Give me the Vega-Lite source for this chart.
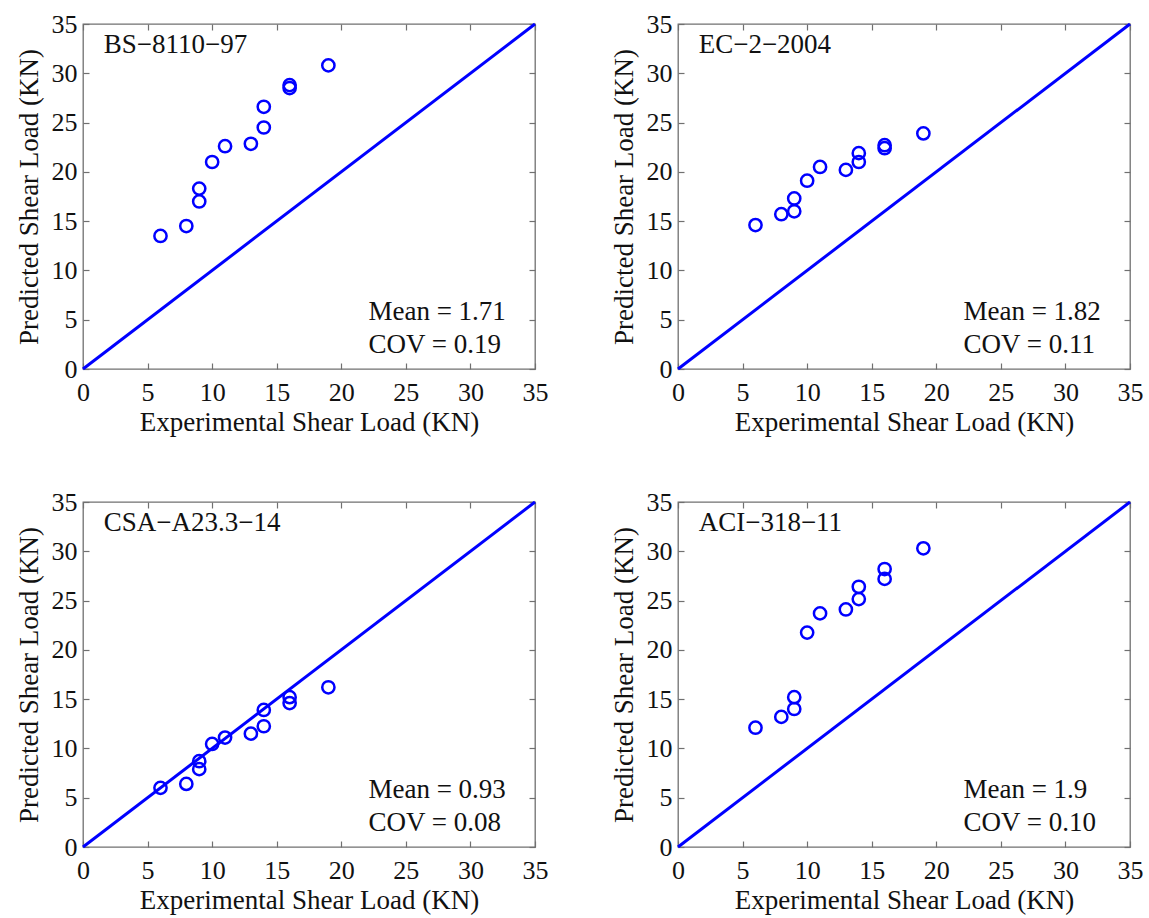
{
  "$schema": "https://vega.github.io/schema/vega-lite/v6.json",
  "padding": {"left": 14, "top": 10, "right": 5, "bottom": 2},
  "background": "white",
  "data": {"values": [
    {"kind": "pt", "code": "BS−8110−97", "exp": 6, "pred": 13.5},
    {"kind": "pt", "code": "BS−8110−97", "exp": 8, "pred": 14.5},
    {"kind": "pt", "code": "BS−8110−97", "exp": 9, "pred": 18.3},
    {"kind": "pt", "code": "BS−8110−97", "exp": 9, "pred": 17.0},
    {"kind": "pt", "code": "BS−8110−97", "exp": 10, "pred": 21.0},
    {"kind": "pt", "code": "BS−8110−97", "exp": 11, "pred": 22.6},
    {"kind": "pt", "code": "BS−8110−97", "exp": 13, "pred": 22.85},
    {"kind": "pt", "code": "BS−8110−97", "exp": 14, "pred": 24.5},
    {"kind": "pt", "code": "BS−8110−97", "exp": 14, "pred": 26.6},
    {"kind": "pt", "code": "BS−8110−97", "exp": 16, "pred": 28.8},
    {"kind": "pt", "code": "BS−8110−97", "exp": 16, "pred": 28.5},
    {"kind": "pt", "code": "BS−8110−97", "exp": 19, "pred": 30.8},
    {"kind": "pt", "code": "EC−2−2004", "exp": 6, "pred": 14.6},
    {"kind": "pt", "code": "EC−2−2004", "exp": 8, "pred": 15.7},
    {"kind": "pt", "code": "EC−2−2004", "exp": 9, "pred": 16.0},
    {"kind": "pt", "code": "EC−2−2004", "exp": 9, "pred": 17.3},
    {"kind": "pt", "code": "EC−2−2004", "exp": 10, "pred": 19.1},
    {"kind": "pt", "code": "EC−2−2004", "exp": 11, "pred": 20.5},
    {"kind": "pt", "code": "EC−2−2004", "exp": 13, "pred": 20.2},
    {"kind": "pt", "code": "EC−2−2004", "exp": 14, "pred": 21.0},
    {"kind": "pt", "code": "EC−2−2004", "exp": 14, "pred": 21.9},
    {"kind": "pt", "code": "EC−2−2004", "exp": 16, "pred": 22.4},
    {"kind": "pt", "code": "EC−2−2004", "exp": 16, "pred": 22.7},
    {"kind": "pt", "code": "EC−2−2004", "exp": 19, "pred": 23.9},
    {"kind": "pt", "code": "CSA−A23.3−14", "exp": 6, "pred": 6.0},
    {"kind": "pt", "code": "CSA−A23.3−14", "exp": 8, "pred": 6.4},
    {"kind": "pt", "code": "CSA−A23.3−14", "exp": 9, "pred": 7.9},
    {"kind": "pt", "code": "CSA−A23.3−14", "exp": 9, "pred": 8.7},
    {"kind": "pt", "code": "CSA−A23.3−14", "exp": 10, "pred": 10.45},
    {"kind": "pt", "code": "CSA−A23.3−14", "exp": 11, "pred": 11.1},
    {"kind": "pt", "code": "CSA−A23.3−14", "exp": 13, "pred": 11.5},
    {"kind": "pt", "code": "CSA−A23.3−14", "exp": 14, "pred": 12.25},
    {"kind": "pt", "code": "CSA−A23.3−14", "exp": 14, "pred": 13.9},
    {"kind": "pt", "code": "CSA−A23.3−14", "exp": 16, "pred": 14.6},
    {"kind": "pt", "code": "CSA−A23.3−14", "exp": 16, "pred": 15.2},
    {"kind": "pt", "code": "CSA−A23.3−14", "exp": 19, "pred": 16.2},
    {"kind": "pt", "code": "ACI−318−11", "exp": 6, "pred": 12.1},
    {"kind": "pt", "code": "ACI−318−11", "exp": 8, "pred": 13.2},
    {"kind": "pt", "code": "ACI−318−11", "exp": 9, "pred": 14.0},
    {"kind": "pt", "code": "ACI−318−11", "exp": 9, "pred": 15.2},
    {"kind": "pt", "code": "ACI−318−11", "exp": 10, "pred": 21.75},
    {"kind": "pt", "code": "ACI−318−11", "exp": 11, "pred": 23.7},
    {"kind": "pt", "code": "ACI−318−11", "exp": 13, "pred": 24.1},
    {"kind": "pt", "code": "ACI−318−11", "exp": 14, "pred": 25.15},
    {"kind": "pt", "code": "ACI−318−11", "exp": 14, "pred": 26.4},
    {"kind": "pt", "code": "ACI−318−11", "exp": 16, "pred": 27.2},
    {"kind": "pt", "code": "ACI−318−11", "exp": 16, "pred": 28.2},
    {"kind": "pt", "code": "ACI−318−11", "exp": 19, "pred": 30.3},
    {"kind": "label", "code": "BS−8110−97", "mean": "Mean = 1.71", "cov": "COV = 0.19"},
    {"kind": "label", "code": "EC−2−2004", "mean": "Mean = 1.82", "cov": "COV = 0.11"},
    {"kind": "label", "code": "CSA−A23.3−14", "mean": "Mean = 0.93", "cov": "COV = 0.08"},
    {"kind": "label", "code": "ACI−318−11", "mean": "Mean = 1.9", "cov": "COV = 0.10"}
  ]},
  "spacing": 52,
  "vconcat": [
    {
      "spacing": 143,
      "bounds": "flush",
      "hconcat": [
        {
          "width": 452, "height": 345,
          "transform": [{"filter": "datum.code === 'BS−8110−97'"}],
          "layer": [
            {"transform": [{"filter": "datum.kind === 'label'"}], "mark": {"type": "rule", "color": "#0000FF", "strokeWidth": 3},
              "encoding": {
                "x": {"datum": 0, "type": "quantitative", "scale": {"domain": [0, 35], "nice": false}, "axis": {"orient": "top", "values": [0, 5, 10, 15, 20, 25, 30, 35], "labels": false, "title": null}},
                "y": {"datum": 0, "type": "quantitative", "scale": {"domain": [0, 35], "nice": false}, "axis": {"orient": "right", "values": [0, 5, 10, 15, 20, 25, 30, 35], "labels": false, "title": null}},
                "x2": {"datum": 35}, "y2": {"datum": 35}}},
            {"transform": [{"filter": "datum.kind === 'pt'"}], "mark": {"type": "point", "shape": "circle", "filled": false, "color": "#0000FF", "strokeWidth": 2.5, "size": 150, "opacity": 1},
              "encoding": {
                "x": {"field": "exp", "type": "quantitative", "scale": {"domain": [0, 35], "nice": false}, "axis": {"orient": "bottom", "values": [0, 5, 10, 15, 20, 25, 30, 35], "title": "Experimental Shear Load (KN)", "labelPadding": 16, "titlePadding": 4}},
                "y": {"field": "pred", "type": "quantitative", "scale": {"domain": [0, 35], "nice": false}, "axis": {"orient": "left", "values": [0, 5, 10, 15, 20, 25, 30, 35], "title": "Predicted Shear Load (KN)", "labelPadding": 12, "titlePadding": 8}}}},
            {"transform": [{"filter": "datum.kind === 'label'"}], "mark": {"type": "text", "align": "left", "baseline": "alphabetic", "font": "Liberation Serif", "fontSize": 27, "color": "#111"},
              "encoding": {"x": {"datum": 1.6, "type": "quantitative", "axis": null}, "y": {"datum": 32.1, "type": "quantitative", "axis": null}, "text": {"field": "code"}}},
            {"transform": [{"filter": "datum.kind === 'label'"}], "mark": {"type": "text", "align": "left", "baseline": "alphabetic", "font": "Liberation Serif", "fontSize": 27, "color": "#111"},
              "encoding": {"x": {"datum": 22.1, "type": "quantitative", "axis": null}, "y": {"datum": 5.0, "type": "quantitative", "axis": null}, "text": {"field": "mean"}}},
            {"transform": [{"filter": "datum.kind === 'label'"}], "mark": {"type": "text", "align": "left", "baseline": "alphabetic", "font": "Liberation Serif", "fontSize": 27, "color": "#111"},
              "encoding": {"x": {"datum": 22.1, "type": "quantitative", "axis": null}, "y": {"datum": 1.6, "type": "quantitative", "axis": null}, "text": {"field": "cov"}}}
          ],
          "resolve": {"axis": {"x": "independent", "y": "independent"}}
        },
        {
          "width": 452, "height": 345,
          "transform": [{"filter": "datum.code === 'EC−2−2004'"}],
          "layer": [
            {"transform": [{"filter": "datum.kind === 'label'"}], "mark": {"type": "rule", "color": "#0000FF", "strokeWidth": 3},
              "encoding": {
                "x": {"datum": 0, "type": "quantitative", "scale": {"domain": [0, 35], "nice": false}, "axis": {"orient": "top", "values": [0, 5, 10, 15, 20, 25, 30, 35], "labels": false, "title": null}},
                "y": {"datum": 0, "type": "quantitative", "scale": {"domain": [0, 35], "nice": false}, "axis": {"orient": "right", "values": [0, 5, 10, 15, 20, 25, 30, 35], "labels": false, "title": null}},
                "x2": {"datum": 35}, "y2": {"datum": 35}}},
            {"transform": [{"filter": "datum.kind === 'pt'"}], "mark": {"type": "point", "shape": "circle", "filled": false, "color": "#0000FF", "strokeWidth": 2.5, "size": 150, "opacity": 1},
              "encoding": {
                "x": {"field": "exp", "type": "quantitative", "scale": {"domain": [0, 35], "nice": false}, "axis": {"orient": "bottom", "values": [0, 5, 10, 15, 20, 25, 30, 35], "title": "Experimental Shear Load (KN)", "labelPadding": 16, "titlePadding": 4}},
                "y": {"field": "pred", "type": "quantitative", "scale": {"domain": [0, 35], "nice": false}, "axis": {"orient": "left", "values": [0, 5, 10, 15, 20, 25, 30, 35], "title": "Predicted Shear Load (KN)", "labelPadding": 12, "titlePadding": 8}}}},
            {"transform": [{"filter": "datum.kind === 'label'"}], "mark": {"type": "text", "align": "left", "baseline": "alphabetic", "font": "Liberation Serif", "fontSize": 27, "color": "#111"},
              "encoding": {"x": {"datum": 1.6, "type": "quantitative", "axis": null}, "y": {"datum": 32.1, "type": "quantitative", "axis": null}, "text": {"field": "code"}}},
            {"transform": [{"filter": "datum.kind === 'label'"}], "mark": {"type": "text", "align": "left", "baseline": "alphabetic", "font": "Liberation Serif", "fontSize": 27, "color": "#111"},
              "encoding": {"x": {"datum": 22.1, "type": "quantitative", "axis": null}, "y": {"datum": 5.0, "type": "quantitative", "axis": null}, "text": {"field": "mean"}}},
            {"transform": [{"filter": "datum.kind === 'label'"}], "mark": {"type": "text", "align": "left", "baseline": "alphabetic", "font": "Liberation Serif", "fontSize": 27, "color": "#111"},
              "encoding": {"x": {"datum": 22.1, "type": "quantitative", "axis": null}, "y": {"datum": 1.6, "type": "quantitative", "axis": null}, "text": {"field": "cov"}}}
          ],
          "resolve": {"axis": {"x": "independent", "y": "independent"}}
        }
      ]
    },
    {
      "spacing": 143,
      "bounds": "flush",
      "hconcat": [
        {
          "width": 452, "height": 345,
          "transform": [{"filter": "datum.code === 'CSA−A23.3−14'"}],
          "layer": [
            {"transform": [{"filter": "datum.kind === 'label'"}], "mark": {"type": "rule", "color": "#0000FF", "strokeWidth": 3},
              "encoding": {
                "x": {"datum": 0, "type": "quantitative", "scale": {"domain": [0, 35], "nice": false}, "axis": {"orient": "top", "values": [0, 5, 10, 15, 20, 25, 30, 35], "labels": false, "title": null}},
                "y": {"datum": 0, "type": "quantitative", "scale": {"domain": [0, 35], "nice": false}, "axis": {"orient": "right", "values": [0, 5, 10, 15, 20, 25, 30, 35], "labels": false, "title": null}},
                "x2": {"datum": 35}, "y2": {"datum": 35}}},
            {"transform": [{"filter": "datum.kind === 'pt'"}], "mark": {"type": "point", "shape": "circle", "filled": false, "color": "#0000FF", "strokeWidth": 2.5, "size": 150, "opacity": 1},
              "encoding": {
                "x": {"field": "exp", "type": "quantitative", "scale": {"domain": [0, 35], "nice": false}, "axis": {"orient": "bottom", "values": [0, 5, 10, 15, 20, 25, 30, 35], "title": "Experimental Shear Load (KN)", "labelPadding": 16, "titlePadding": 4}},
                "y": {"field": "pred", "type": "quantitative", "scale": {"domain": [0, 35], "nice": false}, "axis": {"orient": "left", "values": [0, 5, 10, 15, 20, 25, 30, 35], "title": "Predicted Shear Load (KN)", "labelPadding": 12, "titlePadding": 8}}}},
            {"transform": [{"filter": "datum.kind === 'label'"}], "mark": {"type": "text", "align": "left", "baseline": "alphabetic", "font": "Liberation Serif", "fontSize": 27, "color": "#111"},
              "encoding": {"x": {"datum": 1.6, "type": "quantitative", "axis": null}, "y": {"datum": 32.1, "type": "quantitative", "axis": null}, "text": {"field": "code"}}},
            {"transform": [{"filter": "datum.kind === 'label'"}], "mark": {"type": "text", "align": "left", "baseline": "alphabetic", "font": "Liberation Serif", "fontSize": 27, "color": "#111"},
              "encoding": {"x": {"datum": 22.1, "type": "quantitative", "axis": null}, "y": {"datum": 5.0, "type": "quantitative", "axis": null}, "text": {"field": "mean"}}},
            {"transform": [{"filter": "datum.kind === 'label'"}], "mark": {"type": "text", "align": "left", "baseline": "alphabetic", "font": "Liberation Serif", "fontSize": 27, "color": "#111"},
              "encoding": {"x": {"datum": 22.1, "type": "quantitative", "axis": null}, "y": {"datum": 1.6, "type": "quantitative", "axis": null}, "text": {"field": "cov"}}}
          ],
          "resolve": {"axis": {"x": "independent", "y": "independent"}}
        },
        {
          "width": 452, "height": 345,
          "transform": [{"filter": "datum.code === 'ACI−318−11'"}],
          "layer": [
            {"transform": [{"filter": "datum.kind === 'label'"}], "mark": {"type": "rule", "color": "#0000FF", "strokeWidth": 3},
              "encoding": {
                "x": {"datum": 0, "type": "quantitative", "scale": {"domain": [0, 35], "nice": false}, "axis": {"orient": "top", "values": [0, 5, 10, 15, 20, 25, 30, 35], "labels": false, "title": null}},
                "y": {"datum": 0, "type": "quantitative", "scale": {"domain": [0, 35], "nice": false}, "axis": {"orient": "right", "values": [0, 5, 10, 15, 20, 25, 30, 35], "labels": false, "title": null}},
                "x2": {"datum": 35}, "y2": {"datum": 35}}},
            {"transform": [{"filter": "datum.kind === 'pt'"}], "mark": {"type": "point", "shape": "circle", "filled": false, "color": "#0000FF", "strokeWidth": 2.5, "size": 150, "opacity": 1},
              "encoding": {
                "x": {"field": "exp", "type": "quantitative", "scale": {"domain": [0, 35], "nice": false}, "axis": {"orient": "bottom", "values": [0, 5, 10, 15, 20, 25, 30, 35], "title": "Experimental Shear Load (KN)", "labelPadding": 16, "titlePadding": 4}},
                "y": {"field": "pred", "type": "quantitative", "scale": {"domain": [0, 35], "nice": false}, "axis": {"orient": "left", "values": [0, 5, 10, 15, 20, 25, 30, 35], "title": "Predicted Shear Load (KN)", "labelPadding": 12, "titlePadding": 8}}}},
            {"transform": [{"filter": "datum.kind === 'label'"}], "mark": {"type": "text", "align": "left", "baseline": "alphabetic", "font": "Liberation Serif", "fontSize": 27, "color": "#111"},
              "encoding": {"x": {"datum": 1.6, "type": "quantitative", "axis": null}, "y": {"datum": 32.1, "type": "quantitative", "axis": null}, "text": {"field": "code"}}},
            {"transform": [{"filter": "datum.kind === 'label'"}], "mark": {"type": "text", "align": "left", "baseline": "alphabetic", "font": "Liberation Serif", "fontSize": 27, "color": "#111"},
              "encoding": {"x": {"datum": 22.1, "type": "quantitative", "axis": null}, "y": {"datum": 5.0, "type": "quantitative", "axis": null}, "text": {"field": "mean"}}},
            {"transform": [{"filter": "datum.kind === 'label'"}], "mark": {"type": "text", "align": "left", "baseline": "alphabetic", "font": "Liberation Serif", "fontSize": 27, "color": "#111"},
              "encoding": {"x": {"datum": 22.1, "type": "quantitative", "axis": null}, "y": {"datum": 1.6, "type": "quantitative", "axis": null}, "text": {"field": "cov"}}}
          ],
          "resolve": {"axis": {"x": "independent", "y": "independent"}}
        }
      ]
    }
  ],
  "config": {
    "font": "Liberation Serif",
    "view": {"stroke": "#707070", "strokeWidth": 1.3},
    "axis": {
      "labelFont": "Liberation Serif", "labelFontSize": 26, "labelColor": "#111",
      "titleFont": "Liberation Serif", "titleFontSize": 27, "titleFontWeight": "normal", "titleColor": "#111",
      "domain": false, "grid": false, "tickColor": "#707070", "tickSize": -6, "tickWidth": 1.2,
      "labelFlush": false, "labelOverlap": false
    }
  }
}
